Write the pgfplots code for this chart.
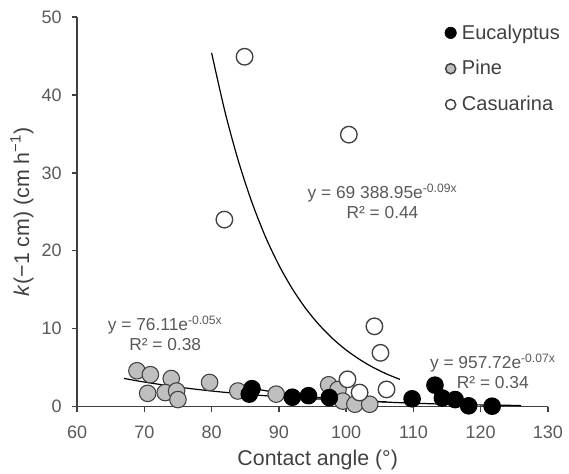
\documentclass[border=0pt]{standalone}
\usepackage{fontspec}
\setmainfont{Liberation Sans}
\usepackage{pgfplots}
\pgfplotsset{compat=1.18}
\usetikzlibrary{calc}
\definecolor{txtgray}{HTML}{595959}
\definecolor{axgray}{HTML}{404040}
\definecolor{pinefill}{HTML}{BFBFBF}

\begin{document}
\begin{tikzpicture}
\begin{axis}[
  name=ax,
  scale only axis, width=353pt, height=292pt,
  xmin=60, xmax=130, ymin=0, ymax=50,
  axis lines=left,
  axis line style={-, axgray, line width=1pt},
  xtick={60,70,...,130}, ytick={0,10,...,50},
  tick align=outside, major tick length=4pt,
  tick style={axgray, line width=1pt},
  /pgf/number format/assume math mode=true,
  ticklabel style={font=\fontsize{13.5}{16}\selectfont, text=txtgray},
  xticklabel style={yshift=-7pt},
  yticklabel style={xshift=-4pt},
  xlabel={Contact angle (°)},
  ylabel={\textit{k}(−1 cm) (cm h\textsuperscript{−1})},
  label style={font=\fontsize{16}{19}\selectfont, text=axgray},
  xlabel style={at={(axis description cs:0.511,-0.136)}, anchor=center},
  ylabel style={at={(axis description cs:-0.117,0.5)}, anchor=center},
  clip=false,
  legend cell align=left,
  legend style={draw=none, fill=none, at={(axis cs:114.6,49.4)}, anchor=north west,
    font=\fontsize{15}{18}\selectfont, text=axgray, row sep=10.5pt,
    inner sep=0pt, nodes={inner sep=2pt}},
]
\addlegendimage{legend image code/.code={\fill[black] (0pt,0pt) circle (4.3pt); \path[draw=none,fill=none] (0pt,0pt) -- (6.5pt,0pt);}}
\addlegendentry{Eucalyptus}
\addlegendimage{legend image code/.code={\draw[draw=axgray, fill=pinefill, line width=1.1pt] (0pt,0pt) circle (3.8pt); \path[draw=none,fill=none] (0pt,0pt) -- (6.5pt,0pt);}}
\addlegendentry{Pine}
\addlegendimage{legend image code/.code={\draw[draw=axgray, fill=white, line width=1.1pt] (0pt,0pt) circle (3.8pt); \path[draw=none,fill=none] (0pt,0pt) -- (6.5pt,0pt);}}
\addlegendentry{Casuarina}

% Pine
\addplot[only marks, mark=*, mark size=6.2pt, forget plot,
  mark options={fill=pinefill, draw=axgray, line width=0.8pt}] coordinates {
  (68.9,4.6) (70.9,4.1) (70.5,1.7) (74.0,3.6) (73.1,1.8) (74.8,2.0) (75.0,0.9)
  (79.7,3.1) (83.9,2.0) (89.6,1.6) (97.4,2.8) (98.8,2.2) (99.5,0.7) (101.3,0.3)
  (103.5,0.3)
};
% Eucalyptus
\addplot[only marks, mark=*, mark size=6.2pt, forget plot,
  mark options={fill=black, draw=black, line width=0.8pt}] coordinates {
  (85.6,1.6) (86.0,2.3) (92.0,1.2) (94.4,1.4) (97.5,1.15) (109.8,1.0)
  (113.2,2.75) (114.3,1.1) (116.2,0.9) (118.2,0.1) (121.7,0.05)
};
% Casuarina
\addplot[only marks, mark=*, mark size=6.2pt, forget plot,
  mark options={fill=white, draw=axgray, line width=1pt}] coordinates {
  (81.9,24.0) (84.9,44.9) (100.4,34.9) (104.2,10.3) (105.1,6.9) (106.0,2.2)
  (100.2,3.5) (102.0,1.8)
};

% trend lines
\addplot[black, line width=0.9pt, smooth, forget plot] coordinates {
  (80,45.4) (82,37.8) (84,31.47) (86,26.2) (88,21.81) (90,18.16) (92,15.12)
  (94,12.58) (96,10.48) (98,8.72) (100,7.26) (102,6.05) (104,5.03) (106,4.19) (108,3.49)
};
\addplot[black, line width=0.9pt, smooth, forget plot] coordinates {
  (67,3.61) (70,3.15) (75,2.51) (80,2.00) (85,1.59) (90,1.27) (95,1.01) (100,0.80) (105,0.64) (106,0.61)
};
\addplot[black, line width=0.9pt, smooth, forget plot] coordinates {
  (85,2.50) (90,1.76) (95,1.24) (100,0.873) (105,0.615) (110,0.434) (115,0.306) (120,0.215) (126,0.141)
};

\node[font=\fontsize{13}{15}\selectfont, text=txtgray, align=center] at (axis cs:73.1,9.36)
  {y = 76.11e\textsuperscript{-0.05x}\\R² = 0.38};
\node[font=\fontsize{13}{15}\selectfont, text=txtgray, align=center] at (axis cs:105.4,26.3)
  {y = 69 388.95e\textsuperscript{-0.09x}\\R² = 0.44};
\node[font=\fontsize{13}{15}\selectfont, text=txtgray, align=center] at (axis cs:121.8,4.5)
  {y = 957.72e\textsuperscript{-0.07x}\\R² = 0.34};
\end{axis}
\path ($(ax.south west)+(-57.75pt,-50.25pt)$) rectangle ($(ax.north east)+(15.75pt,12.75pt)$);
\end{tikzpicture}
\end{document}
